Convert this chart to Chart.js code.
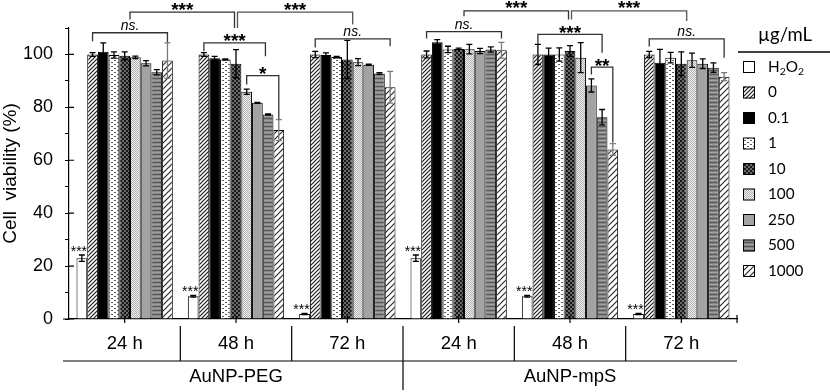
<!DOCTYPE html>
<html><head><meta charset="utf-8">
<script src="https://cdn.jsdelivr.net/npm/chart.js@4"></script>
<style>html,body{margin:0;padding:0;background:#fff}</style>
</head><body>
<canvas id="c" width="830" height="392"></canvas>
<script>
// ---- data ----
const groups = ['24 h','48 h','72 h','24 h','48 h','72 h'];
const materials = ['AuNP-PEG','AuNP-mpS'];
const legendTitle = 'µg/mL';
const seriesLabels = ['H2O2','0','0.1','1','10','100','250','500','1000'];
const vH2O2 = [23.0, 8.6, 1.9, 23.0, 8.6, 1.9];
const eH2O2 = [1.2, 0.3, 0.2, 1.2, 0.3, 0.2];
const v0    = [100.0, 100.0, 100.0, 100.0, 100.0, 100.0];
const e0    = [0.7, 0.7, 1.2, 1.3, 3.8, 1.2];
const v01   = [101.0, 98.6, 99.8, 104.6, 100.0, 96.9];
const e01   = [3.4, 0.7, 0.8, 1.0, 2.4, 5.0];
const v1    = [99.8, 98.1, 99.0, 101.9, 100.0, 98.8];
const e1    = [1.2, 0.2, 0.3, 1.2, 2.5, 2.0];
const v10   = [99.5, 96.5, 98.1, 102.1, 101.3, 96.5];
const e10   = [1.5, 5.3, 7.2, 0.3, 2.0, 4.5];
const v100  = [98.9, 85.9, 97.1, 102.0, 98.8, 97.8];
const e100  = [0.5, 1.0, 1.3, 1.8, 5.7, 2.7];
const v250  = [96.7, 81.7, 96.1, 101.3, 88.3, 96.5];
const e250  = [1.0, 0.2, 0.2, 1.0, 2.5, 1.8];
const v500  = [93.3, 77.3, 92.8, 101.9, 76.3, 95.0];
const e500  = [1.0, 0.2, 0.3, 1.0, 2.9, 1.8];
const v1000 = [97.7, 71.4, 87.6, 101.6, 64.1, 91.6];
const e1000 = [6.7, 4.0, 6.0, 3.0, 2.2, 1.5];
const values = [vH2O2, v0, v01, v1, v10, v100, v250, v500, v1000];
const errors = [eH2O2, e0, e01, e1, e10, e100, e250, e500, e1000];
// significance brackets within a group: [category, fromSeries, toSeries, lineValue, leftEndValue, rightEndValue, text]
const groupBrackets = [
  [0, 1, 8, 108.2, 105.0, 104.6, 'ns.'],
  [1, 1, 6.75, 104.4, 101.2, 99.3, '***'],
  [1, 5, 8, 92.0, 88.6, 75.5, '*'],
  [2, 1, 8, 105.9, 102.6, 103.1, 'ns.'],
  [3, 1, 8, 108.6, 106.0, 106.0, 'ns.'],
  [4, 1, 7, 107.6, 103.8, 100.6, '***'],
  [4, 6, 8, 95.2, 92.4, 66.7, '**'],
  [5, 1, 8, 105.9, 103.0, 98.8, 'ns.']
];
// brackets across groups: [catFrom, seriesFrom, catTo, seriesTo, lineValue, leftEndValue, rightEndValue, text]
const crossBrackets = [
  [0, 4.5, 1, 4, 116.0, 113.2, 110.0, '***'],
  [1, 4, 2, 4.5, 116.0, 110.0, 111.3, '***'],
  [3, 4.5, 4, 4, 116.5, 114.4, 113.2, '***'],
  [4, 4, 5, 4.5, 116.5, 113.2, 112.6, '***']
];
const h2o2Marks = ['***','***','***','***','***','***'];

// ---- patterns ----
const canvas = document.getElementById('c');
const mctx = canvas.getContext('2d');
function pat(w, h, bg, draw) {
  const c = document.createElement('canvas'); c.width = w; c.height = h;
  const g = c.getContext('2d'); g.fillStyle = bg; g.fillRect(0, 0, w, h);
  if (draw) draw(g);
  return mctx.createPattern(c, 'repeat');
}
const fills = [
  '#ffffff',
  pat(4, 4, '#ffffff', g => { g.strokeStyle = '#1a1a1a'; g.lineWidth = 1.2; g.beginPath();
      g.moveTo(-1, 5); g.lineTo(5, -1); g.moveTo(-1, 1); g.lineTo(1, -1); g.moveTo(3, 5); g.lineTo(5, 3); g.stroke(); }),
  '#000000',
  pat(6, 4, '#ffffff', g => { g.fillStyle = '#5a5a5a'; g.fillRect(0, 0, 2, 1); g.fillRect(3, 2, 2, 1); }),
  pat(4, 4, '#6a6a6a', g => { g.fillStyle = '#1a1a1a'; g.fillRect(0, 0, 2, 2); g.fillRect(2, 2, 2, 2); }),
  pat(2, 2, '#f2f2f2', g => { g.fillStyle = '#b0b0b0'; g.fillRect(0, 0, 1, 1); g.fillRect(1, 1, 1, 1); }),
  '#a3a3a3',
  pat(1, 4, '#858585', g => { g.fillStyle = '#5a5a5a'; g.fillRect(0, 2, 1, 1); g.fillStyle = '#a0a0a0'; g.fillRect(0, 0, 1, 1); }),
  pat(6, 6, '#ffffff', g => { g.strokeStyle = '#2a2a2a'; g.lineWidth = 1.2; g.beginPath();
      g.moveTo(-1, 7); g.lineTo(7, -1); g.moveTo(-1, 1); g.lineTo(1, -1); g.moveTo(5, 7); g.lineTo(7, 5); g.stroke(); })
];

// ---- helpers ----
function seriesX(chart, cat, s) {
  const i0 = Math.floor(s), f = s - i0;
  const a = chart.getDatasetMeta(i0).data[cat].x;
  if (f === 0) return a;
  const b = chart.getDatasetMeta(i0 + 1).data[cat].x;
  return a + f * (b - a);
}
function bracketText(ctx, text, x, lineY) {
  ctx.fillStyle = '#000';
  ctx.textAlign = 'center';
  ctx.textBaseline = 'alphabetic';
  if (text === 'ns.') {
    ctx.font = "italic 14px 'Liberation Sans', Arial, sans-serif";
    ctx.fillText(text, x, lineY - 3);
  } else {
    ctx.font = "bold 19px 'Liberation Sans', Arial, sans-serif";
    ctx.fillText(text, x, lineY + 4.5);
  }
}
function drawChem(ctx, text, x, y, size, family) {
  let cx = x, prevLetter = false, inSub = false;
  for (const ch of text) {
    const isDigit = ch >= '0' && ch <= '9';
    const sub = isDigit && (prevLetter || inSub);
    ctx.font = (sub ? size * 0.68 : size).toFixed(1) + 'px ' + family;
    ctx.fillText(ch, cx, sub ? y + size * 0.3 : y);
    cx += ctx.measureText(ch).width;
    prevLetter = /[A-Za-z]/.test(ch);
    inSub = sub;
  }
}
function fitSize(ctx, text, family, targetW) {
  ctx.font = '20px ' + family;
  return 20 * targetW / ctx.measureText(text).width;
}

const decor = {
  id: 'decor',
  afterDatasetsDraw(chart) {
    const ctx = chart.ctx, y = chart.scales.y;
    ctx.save();
    // error bars
    chart.data.datasets.forEach((ds, i) => {
      const meta = chart.getDatasetMeta(i);
      ctx.strokeStyle = i === 8 ? '#7a7a7a' : '#000';
      ctx.lineWidth = 1.3;
      meta.data.forEach((el, j) => {
        const v = ds.data[j], e = errors[i][j];
        const yt = y.getPixelForValue(v + e), yb = y.getPixelForValue(v - e);
        ctx.beginPath();
        ctx.moveTo(el.x, yt); ctx.lineTo(el.x, yb);
        ctx.moveTo(el.x - 3, yt); ctx.lineTo(el.x + 3, yt);
        ctx.moveTo(el.x - 3, yb); ctx.lineTo(el.x + 3, yb);
        ctx.stroke();
      });
    });
    // H2O2 significance marks
    const m0 = chart.getDatasetMeta(0);
    ctx.fillStyle = '#000';
    ctx.font = "14px 'Liberation Sans', Arial, sans-serif";
    ctx.textAlign = 'center'; ctx.textBaseline = 'alphabetic';
    m0.data.forEach((el, j) => {
      ctx.fillText(h2o2Marks[j], el.x - 3, y.getPixelForValue(values[0][j] + errors[0][j]) + 1);
    });
    ctx.restore();
  },
  afterDraw(chart) {
    const ctx = chart.ctx, ys = chart.scales.y, xs = chart.scales.x, ca = chart.chartArea;
    ctx.save();
    ctx.strokeStyle = '#333'; ctx.lineWidth = 1.3;
    groupBrackets.forEach(b => {
      const [cat, s0, s1, lv, l0, l1, txt] = b;
      const xa = seriesX(chart, cat, s0), xb = seriesX(chart, cat, s1);
      const yl = ys.getPixelForValue(lv);
      ctx.beginPath();
      ctx.moveTo(xa, ys.getPixelForValue(l0)); ctx.lineTo(xa, yl); ctx.lineTo(xb, yl); ctx.lineTo(xb, ys.getPixelForValue(l1));
      ctx.stroke();
      bracketText(ctx, txt, (xa + xb) / 2, yl);
    });
    crossBrackets.forEach((b, k) => {
      const [c0, s0, c1, s1, lv, l0, l1, txt] = b;
      let xa = seriesX(chart, c0, s0), xb = seriesX(chart, c1, s1);
      if (k % 2 === 0) xb -= 1.5; else xa += 1.5;
      const yl = ys.getPixelForValue(lv);
      ctx.strokeStyle = k % 2 === 0 ? '#333' : '#555';
      ctx.beginPath();
      ctx.moveTo(xa, ys.getPixelForValue(l0)); ctx.lineTo(xa, yl); ctx.lineTo(xb, yl); ctx.lineTo(xb, ys.getPixelForValue(l1));
      ctx.stroke();
      bracketText(ctx, txt, (xa + xb) / 2, yl - 1);
    });
    // x axis decorations
    ctx.strokeStyle = '#000'; ctx.lineWidth = 1.2;
    const w = (ca.right - ca.left) / groups.length;
    ctx.beginPath();
    ctx.moveTo(ca.left - 6, ca.bottom); ctx.lineTo(ca.left, ca.bottom);
    for (let i = 0; i < groups.length; i++) {
      const cx = xs.getPixelForValue(i);
      ctx.moveTo(cx, ca.bottom - 3); ctx.lineTo(cx, ca.bottom + 4);
    }
    ctx.moveTo(ca.right, ca.bottom - 4); ctx.lineTo(ca.right, ca.bottom + 4);
    const sepTop = ca.bottom + 7, lineY = ca.bottom + 42;
    for (let i = 1; i < groups.length; i++) {
      const bx = ca.left + w * i;
      ctx.moveTo(bx, sepTop); ctx.lineTo(bx, i === 3 ? chart.height - 2 : lineY);
    }
    ctx.moveTo(ca.left - 6, lineY); ctx.lineTo(ca.right, lineY);
    for (let v = 0; v <= 100; v += 20) {
      const py = ys.getPixelForValue(v);
      ctx.moveTo(ca.left, py); ctx.lineTo(ca.left + 5, py);
    }
    ctx.stroke();
    // legend
    const fam = "Lato, 'Open Sans', sans-serif";
    const titleSize = fitSize(ctx, legendTitle, fam, 54);
    const itemSize = fitSize(ctx, '1000', fam, 35.5);
    ctx.fillStyle = '#000';
    ctx.font = titleSize.toFixed(1) + 'px ' + fam; ctx.textAlign = 'center'; ctx.textBaseline = 'middle';
    ctx.fillText(legendTitle, 785, 35);
    ctx.lineWidth = 1.3;
    ctx.beginPath(); ctx.moveTo(738, 52); ctx.lineTo(830, 52); ctx.stroke();
    chart.data.datasets.forEach((ds, i) => {
      const cy = 67 + 25.5 * i;
      ctx.fillStyle = ds.backgroundColor;
      ctx.fillRect(743, cy - 6, 12, 12);
      ctx.strokeStyle = '#000'; ctx.lineWidth = 1;
      ctx.strokeRect(743.5, cy - 5.5, 11, 11);
      ctx.fillStyle = '#000'; ctx.textAlign = 'left'; ctx.textBaseline = 'middle';
      drawChem(ctx, ds.label, 768, cy, itemSize, fam);
    });
    ctx.restore();
  }
};

Chart.defaults.font.family = "'Liberation Sans', Arial, sans-serif";
Chart.defaults.color = '#000';

new Chart(canvas, {
  type: 'bar',
  data: {
    labels: groups,
    datasets: seriesLabels.map((l, i) => ({
      label: l, data: values[i], backgroundColor: fills[i],
      borderColor: '#000', borderWidth: 1
    }))
  },
  options: {
    responsive: false, animation: false, devicePixelRatio: 1,
    layout: { padding: { top: 28, right: 93, left: 0, bottom: 0 } },
    datasets: { bar: { categoryPercentage: 0.865, barPercentage: 1 } },
    plugins: { legend: { display: false }, tooltip: { enabled: false } },
    scales: {
      x: {
        type: 'category', offset: true,
        grid: { display: false, drawTicks: false },
        border: { display: true, color: '#000', width: 1.2 },
        ticks: { font: { size: 18.5 }, color: '#000', padding: 14, maxRotation: 0, autoSkip: false },
        afterFit(s) { s.height = 42; }
      },
      x2: {
        type: 'category', labels: materials, position: 'bottom', offset: true,
        grid: { display: false, drawTicks: false },
        border: { display: false },
        ticks: { font: { size: 18.5 }, color: '#000', padding: 5, maxRotation: 0, autoSkip: false },
        afterFit(s) { s.height = 31; }
      },
      y: {
        min: 0, max: 110,
        ticks: { stepSize: 10, autoSkip: false, callback: v => (v % 20 === 0 && v <= 100) ? String(v) : '',
                 font: { size: 18 }, color: '#000', padding: 12 },
        grid: { drawOnChartArea: false, color: '#000', tickColor: '#000', tickLength: 4 },
        border: { color: '#000', width: 1.2 },
        title: { display: true, text: 'Cell  viability (%)', font: { size: 19 }, color: '#000', padding: { top: -1, bottom: 0 } },
        afterFit(s) { s.width = 69; }
      }
    }
  },
  plugins: [decor]
});
</script>
</body></html>
